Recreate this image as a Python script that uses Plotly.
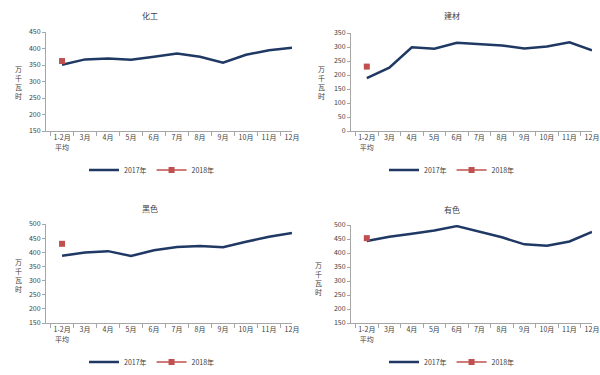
import plotly.graph_objects as go

categories = ["1-2月<br>平均", "3月", "4月", "5月", "6月", "7月", "8月", "9月", "10月", "11月", "12月"]

titles = ["化工", "建材", "黑色", "有色"]

chem_2017 = [351, 367, 370, 366, 375, 385, 375, 357, 381, 395, 402]
chem_2018 = [362]
build_2017 = [189, 226, 299, 294, 315, 309, 305, 295, 302, 317, 288]
build_2018 = [230]
ferrous_2017 = [388, 399, 404, 387, 407, 419, 422, 418, 437, 455, 468]
ferrous_2018 = [430]
nonferrous_2017 = [443, 458, 469, 480, 496, 475, 456, 431, 426, 441, 475]
nonferrous_2018 = [453]

series_2017 = [chem_2017, build_2017, ferrous_2017, nonferrous_2017]
series_2018 = [chem_2018, build_2018, ferrous_2018, nonferrous_2018]
y_ranges = [[150, 450], [0, 350], [150, 500], [150, 500]]

W, H = 600, 375


def fx(px):
    return px / W


def fy(py):
    return 1 - py / H


# panel boxes in window pixels: (left, right, top, bottom)
boxes = [(46, 292, 32, 131), (351, 592, 33, 131), (46, 292, 224, 323), (351, 592, 225, 323)]
title_pos = [(150, 15), (452, 16), (150, 208), (452, 209)]
ytitle_pos = [(18, 82), (321, 82), (18, 275), (318, 278)]
legend_pos = [(152, 170), (452, 170), (152, 362), (452, 362)]

FONT = "Noto Sans CJK SC"
TXT = "#404040"
NAVY = "#1F3864"
RED = "#C0504D"
AXIS = "#A6A6A6"

fig = go.Figure()
layout = dict(
    width=W, height=H, margin=dict(l=0, r=0, t=0, b=0, autoexpand=False),
    paper_bgcolor="white", plot_bgcolor="white",
    font=dict(family=FONT, size=7, color=TXT),
    showlegend=True,
)
annotations = []
for i in range(4):
    sfx = "" if i == 0 else str(i + 1)
    leg = "legend" if i == 0 else "legend" + str(i + 1)
    l, r, t, b = boxes[i]
    fig.add_trace(go.Scatter(
        x=categories, y=series_2017[i], mode="lines", name="2017年",
        line=dict(color=NAVY, width=2.5), xaxis="x" + sfx, yaxis="y" + sfx,
        legend=leg))
    fig.add_trace(go.Scatter(
        x=categories[:1], y=series_2018[i], mode="lines+markers", name="2018年",
        line=dict(color=RED, width=1.5),
        marker=dict(symbol="square", size=6, color=RED),
        xaxis="x" + sfx, yaxis="y" + sfx, legend=leg))
    layout["xaxis" + sfx] = dict(
        domain=[fx(l), fx(r)], anchor="y" + sfx, type="category",
        categoryorder="array", categoryarray=categories,
        showline=True, linecolor=AXIS, linewidth=1, ticks="outside",
        tickson="boundaries", ticklen=4, tickcolor=AXIS, showgrid=False,
        tickangle=0, automargin=False,
        tickfont=dict(size=7, color=TXT), fixedrange=True)
    layout["yaxis" + sfx] = dict(
        domain=[fy(b), fy(t)], anchor="x" + sfx, range=y_ranges[i],
        dtick=50, showline=True, linecolor=AXIS, linewidth=1, ticks="outside",
        ticklen=3, tickcolor=AXIS, showgrid=False, zeroline=False, automargin=False,
        tickfont=dict(size=7, color=TXT), fixedrange=True)
    lx, ly = legend_pos[i]
    layout[leg] = dict(
        x=fx(lx), y=fy(ly), xanchor="center", yanchor="middle",
        orientation="h", font=dict(size=7, color=TXT), bgcolor="rgba(0,0,0,0)",
        itemwidth=30, tracegroupgap=0)
    tx, ty = title_pos[i]
    annotations.append(dict(
        text=titles[i], x=fx(tx), y=fy(ty), xref="paper", yref="paper",
        showarrow=False, font=dict(size=8, color=TXT), xanchor="center", yanchor="middle"))
    yx, yy = ytitle_pos[i]
    annotations.append(dict(
        text="万<br>千<br>瓦<br>时", x=fx(yx), y=fy(yy), xref="paper", yref="paper",
        showarrow=False, font=dict(size=7, color=TXT), xanchor="center", yanchor="middle"))
layout["annotations"] = annotations
fig.update_layout(**layout)
# remove the default page margin so the 600x375 figure fills the window exactly
fig.write_html(
    "out.html",
    config={"displayModeBar": False, "staticPlot": True},
    post_script="document.body.style.margin='0px';document.body.style.overflow='hidden';",
)
